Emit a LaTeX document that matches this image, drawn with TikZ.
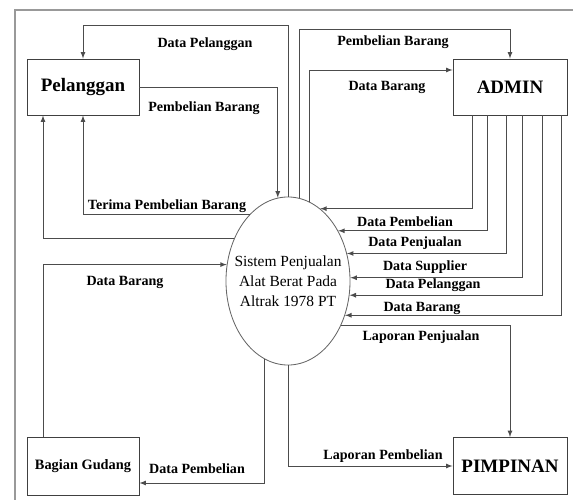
\documentclass[tikz,border=0pt]{standalone}
\usepackage{fontspec}
\setmainfont{Liberation Serif}
\usetikzlibrary{arrows,shapes}

\begin{document}
\begin{tikzpicture}[x=0.025cm,y=-0.025cm,
  ent/.style={draw=black!75,line width=0.6pt,rectangle,inner sep=0pt,font=\fontsize{13.5}{15}\selectfont\bfseries},
  proc/.style={draw=black!60,line width=0.6pt,ellipse,inner xsep=-12pt,inner ysep=0pt,minimum width=3.1cm,minimum height=4.2cm,align=center,font=\fontsize{11}{14.2}\selectfont},
  lbl/.style={inner sep=0pt,font=\fontsize{10}{12}\selectfont\bfseries},
  flow/.style={-latex,draw=black!70,line width=0.6pt}]
\useasboundingbox (0,0) rectangle (573,500);
% frame
\draw[black!40,line width=0.8pt] (573,10) -- (15,10) -- (15,500);

% entities and process
\node[ent,minimum width=2.8cm,minimum height=1.4cm] (pel) at (83,87) {Pelanggan};
\node[ent,minimum width=2.85cm,minimum height=1.4cm] (admin) at (510,87) {ADMIN};
\node[ent,minimum width=2.8cm,minimum height=1.45cm,font=\fontsize{10.2}{12}\selectfont\bfseries] (gud) at (83,466) {Bagian Gudang};
\node[ent,minimum width=2.85cm,minimum height=1.425cm] (pim) at (510,466) {PIMPINAN};
\node[proc] (sys) at (288,281) {Sistem Penjualan\\Alat Berat Pada\\Altrak 1978 PT};

% pelanggan
\draw[flow] (sys.north) -- (sys.north |- 0,25) -| (pel.north);
\draw[flow] (pel.east) -| (sys.97.6);
\draw[flow] (sys.120.1) -| (pel.south);
\draw[flow] (sys.142) -| (43,0 |- pel.south);
\node[lbl] (t1) at (205,44) {Data Pelanggan};
\node[lbl] (t2) at (204,108) {Pembelian Barang};
\node[lbl] (t3) at (167,206) {Terima Pembelian Barang};

% admin
\draw[flow] (sys.82.4) -- (sys.82.4 |- 0,29) -| (admin.north);
\draw[flow] (sys.75.9) |- (admin.west |- 0,70);
\foreach \xx/\aa in {472/66.1,487/45.1,506/25.6,522/3.7,542/347.1,561/329.0}
  \draw[flow] (admin.south -| \xx,0) |- (sys.\aa);
\node[lbl] (t4) at (393,42) {Pembelian Barang};
\node[lbl] (t5) at (387,87) {Data Barang};
\node[lbl] (t6) at (405,222) {Data Pembelian};
\node[lbl] (t7) at (415,243) {Data Penjualan};
\node[lbl] (t8) at (425,267) {Data Supplier};
\node[lbl] (t9) at (433,285) {Data Pelanggan};
\node[lbl] (t10) at (422,308) {Data Barang};

% pimpinan
\draw[flow] (sys.320.2) -| (pim.north);
\draw[flow] (sys.south) |- (pim.west);
\node[lbl] (t11) at (421,337) {Laporan Penjualan};
\node[lbl] (t12) at (383,456) {Laporan Pembelian};

% gudang
\draw[flow] (sys.253.6) |- (gud.east |- 0,483);
\draw[flow] (gud.north -| 43,0) |- (sys.165.3);
\node[lbl] (t13) at (125,282) {Data Barang};
\node[lbl] (t14) at (197,469) {Data Pembelian};
\end{tikzpicture}
\end{document}
